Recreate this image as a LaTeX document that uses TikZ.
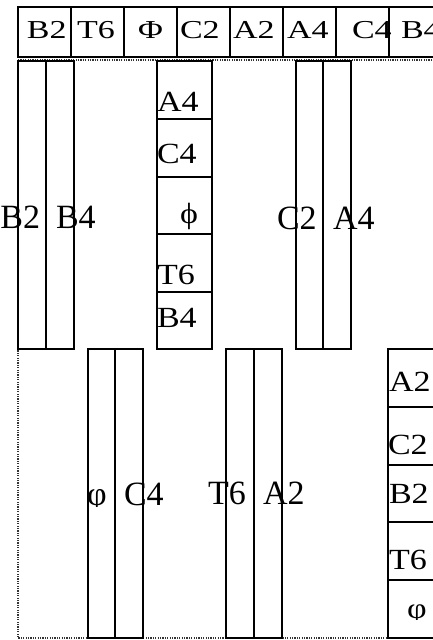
\documentclass[tikz,border=0pt]{standalone}
\usepackage{fontspec}
\setmainfont{Liberation Serif}
\begin{document}
\begin{tikzpicture}[x=1pt,y=-1pt,
  topcell/.style={draw=black,line width=2.4pt},
  cellbox/.style={draw=black,line width=2.2pt},
  frame/.style={draw=black!80,dash pattern=on 1.2pt off 1.2pt,line width=1.8pt},
  lbl/.style={inner sep=0pt,outer sep=0pt,anchor=base west,font=\fontsize{34}{40}\selectfont},
]
\useasboundingbox (0,0) rectangle (433,640);
\clip (0,0) rectangle (433,640);
\newcommand{\topscale}[1]{\scalebox{1}[0.76]{#1}}
\newcommand{\stkscale}[1]{\scalebox{1}[0.86]{#1}}
% frame
\draw[frame] (18,60) rectangle (445,638);
% top row
\foreach \i in {0,...,7}{
  \draw[topcell] ({18+53*\i},7) rectangle ({71+53*\i},57);
}
\node[lbl] (t1) at (27,38) {\topscale{B2}};
\node[lbl] (t2) at (77,38) {\topscale{T6}};
\node[lbl] (t3) at (138,38) {\topscale{Φ}};
\node[lbl] (t4) at (180,38) {\topscale{C2}};
\node[lbl] (t5) at (233,38) {\topscale{A2}};
\node[lbl] (t6) at (287,38) {\topscale{A4}};
\node[lbl] (t7) at (352,38) {\topscale{C4}};
\node[lbl] (t8) at (401,38) {\topscale{B4}};
% tall columns upper
\draw[cellbox] (18,61) rectangle (46,349);
\draw[cellbox] (46,61) rectangle (74,349);
\draw[cellbox] (296,61) rectangle (323,349);
\draw[cellbox] (323,61) rectangle (351,349);
% stacked middle
\draw[cellbox] (157,61) rectangle (212,349);
\foreach \yy in {119,177,234,292}{\draw[cellbox] (157,\yy) -- (212,\yy);}
% tall columns lower
\draw[cellbox] (88,349) rectangle (115,638);
\draw[cellbox] (115,349) rectangle (143,638);
\draw[cellbox] (226,349) rectangle (254,638);
\draw[cellbox] (254,349) rectangle (282,638);
% stacked right
\draw[cellbox] (388,349) rectangle (445,638);
\foreach \yy in {407,465,522,580}{\draw[cellbox] (388,\yy) -- (445,\yy);}
% tall labels
\node[lbl] (c1) at (0.5,228) {B2};
\node[lbl] (c2) at (56,228) {B4};
\node[lbl] (c3) at (277,229) {C2};
\node[lbl] (c4) at (333,229) {A4};
\begin{scope}
\clip (80,470) rectangle (115,506);
\node[lbl] (c5) at (87,505) {φ};
\end{scope}
\node[lbl] (c6) at (124,505) {C4};
\node[lbl] (c7) at (208,504) {T6};
\node[lbl] (c8) at (263,504) {A2};
% stacked middle labels
\node[lbl] (m1) at (157,111) {\stkscale{A4}};
\node[lbl] (m2) at (157,163) {\stkscale{C4}};
\node[lbl] (m3) at (180,223) {\stkscale{ϕ}};
\node[lbl] (m4) at (157,284) {\stkscale{T6}};
\node[lbl] (m5) at (157,327) {\stkscale{B4}};
% stacked right labels
\node[lbl] (r1) at (389,391) {\stkscale{A2}};
\node[lbl] (r2) at (388,454) {\stkscale{C2}};
\node[lbl] (r3) at (389,503) {\stkscale{B2}};
\node[lbl] (r4) at (389,569) {\stkscale{T6}};
\begin{scope}
\clip (395,590) rectangle (433,619);
\node[lbl] (r5) at (407,618) {\stkscale{φ}};
\end{scope}
\end{tikzpicture}
\end{document}
